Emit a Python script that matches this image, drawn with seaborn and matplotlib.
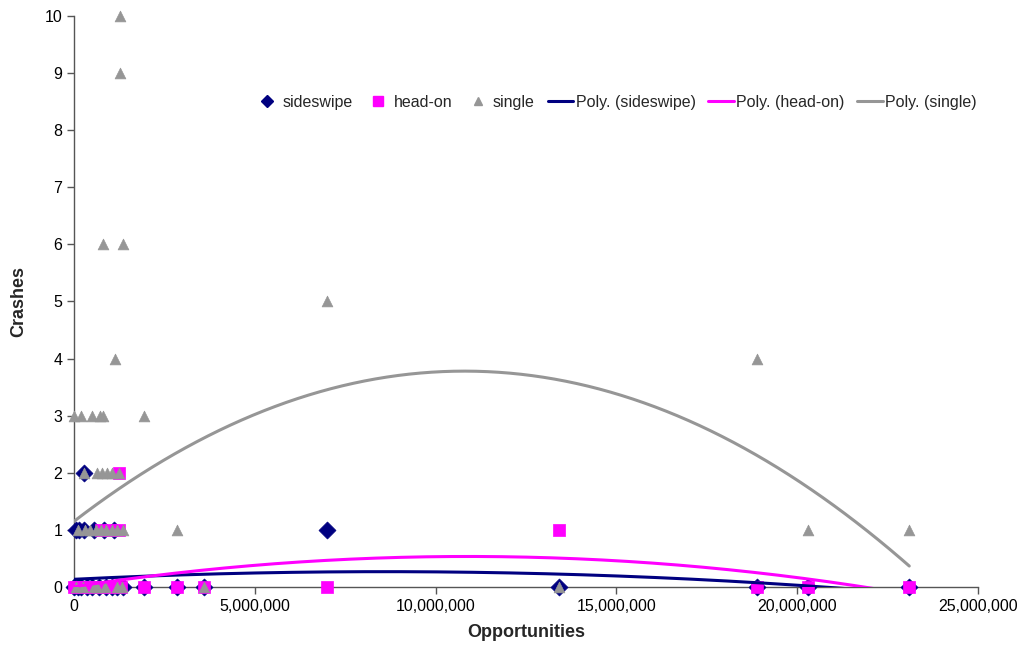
import numpy as np
import pandas as pd
import matplotlib
matplotlib.use('Agg')
import matplotlib.pyplot as plt
from matplotlib.lines import Line2D
from matplotlib.ticker import FuncFormatter
import seaborn as sns

# opportunities in millions, crashes per site
side_x = [0.27, 0.05, 0.15, 0.28, 0.55, 0.82, 1.10, 7.0,
          0.0, 0.10, 0.20, 0.35, 0.50, 0.70, 0.90, 1.05, 1.20, 1.35,
          1.93, 2.85, 3.60, 13.4, 18.9, 20.3, 23.1]
side_y = [2, 1, 1, 1, 1, 1, 1, 1,
          0, 0, 0, 0, 0, 0, 0, 0, 0, 0,
          0, 0, 0, 0, 0, 0, 0]

head_x = [1.24, 0.75, 1.00, 1.25, 13.4,
          0.0, 0.05, 0.15, 0.30, 0.45, 0.60, 0.80, 0.95, 1.10, 1.30,
          1.93, 2.85, 3.60, 7.0, 18.9, 20.3, 23.1]
head_y = [2, 1, 1, 1, 1,
          0, 0, 0, 0, 0, 0, 0, 0, 0, 0,
          0, 0, 0, 0, 0, 0, 0]

single_x = [1.27, 1.27, 0.80, 1.36, 7.0, 1.13, 18.9,
            0.0, 0.20, 0.50, 0.72, 0.80, 1.93,
            0.27, 0.64, 0.77, 0.91, 1.05, 1.24,
            0.10, 0.30, 0.45, 0.60, 0.75, 0.90, 1.05, 1.20, 1.35, 2.85, 20.3, 23.1,
            0.05, 0.25, 0.55, 0.65, 0.85, 1.20, 1.32, 3.60, 13.4]
single_y = [10, 9, 6, 6, 5, 4, 4,
            3, 3, 3, 3, 3, 3,
            2, 2, 2, 2, 2, 2,
            1, 1, 1, 1, 1, 1, 1, 1, 1, 1, 1, 1,
            0, 0, 0, 0, 0, 0, 0, 0, 0]

# order-2 trendline coefficients (x in millions)
trend_side = [-0.001817, 0.03115, 0.135]
trend_head = [-0.00446, 0.0972, 0.005]
trend_single = [-0.02256, 0.4873, 1.149]

navy = '#000080'
magenta = '#FF00FF'
gray = '#969696'

sns.set_style('white')
plt.rcParams['font.family'] = ['Liberation Sans', 'DejaVu Sans']

fig = plt.figure(figsize=(10.2, 6.52), dpi=100)
ax = fig.add_axes([0.0725, 0.0997, 0.8863, 0.8758])

M = 1e6
sns.scatterplot(x=np.array(side_x) * M, y=side_y, marker='D', s=75, color=navy,
                edgecolor=navy, linewidth=0.5, ax=ax, clip_on=False, zorder=3)
sns.scatterplot(x=np.array(head_x) * M, y=head_y, marker='s', s=65, color=magenta,
                edgecolor=magenta, linewidth=0.5, ax=ax, clip_on=False, zorder=4)
sns.scatterplot(x=np.array(single_x) * M, y=single_y, marker='^', s=60, color=gray,
                edgecolor=gray, linewidth=0.5, ax=ax, clip_on=False, zorder=5)

xs = np.linspace(0, 23.1, 300)
for coef, col in [(trend_side, navy), (trend_head, magenta), (trend_single, gray)]:
    sns.lineplot(x=xs * M, y=np.polyval(coef, xs), color=col, lw=2.2, ax=ax,
                 estimator=None, sort=False, zorder=6)

ax.set_xlim(0, 25e6)
ax.set_ylim(0, 10)
ax.set_xticks(np.arange(0, 25e6 + 1, 5e6))
ax.set_yticks(range(0, 11))
ax.xaxis.set_major_formatter(FuncFormatter(lambda v, p: f'{int(v):,}'))
for s in ['top', 'right']:
    ax.spines[s].set_visible(False)
for s in ['left', 'bottom']:
    ax.spines[s].set_color('#555555')
    ax.spines[s].set_linewidth(1)
ax.tick_params(axis='both', direction='out', length=5, width=1, color='#555555',
               labelsize=11.5, labelcolor='black', bottom=True, left=True)
ax.set_xlabel('Opportunities', fontsize=13, fontweight='bold', labelpad=7)
ax.set_ylabel('Crashes', fontsize=13, fontweight='bold', labelpad=12)

handles = [
    Line2D([], [], marker='D', color=navy, ls='none', ms=6),
    Line2D([], [], marker='s', color=magenta, ls='none', ms=7),
    Line2D([], [], marker='^', color=gray, ls='none', ms=6),
    Line2D([], [], color=navy, lw=2.2),
    Line2D([], [], color=magenta, lw=2.2),
    Line2D([], [], color=gray, lw=2.2),
]
labels = ['sideswipe', 'head-on', 'single', 'Poly. (sideswipe)', 'Poly. (head-on)', 'Poly. (single)']
fig.legend(handles, labels, loc='center right', bbox_to_anchor=(0.972, 0.843), ncol=6,
           frameon=False, fontsize=11.5, handlelength=1.6, handletextpad=0.15,
           columnspacing=0.8)

fig.savefig('out.png', dpi=100)
